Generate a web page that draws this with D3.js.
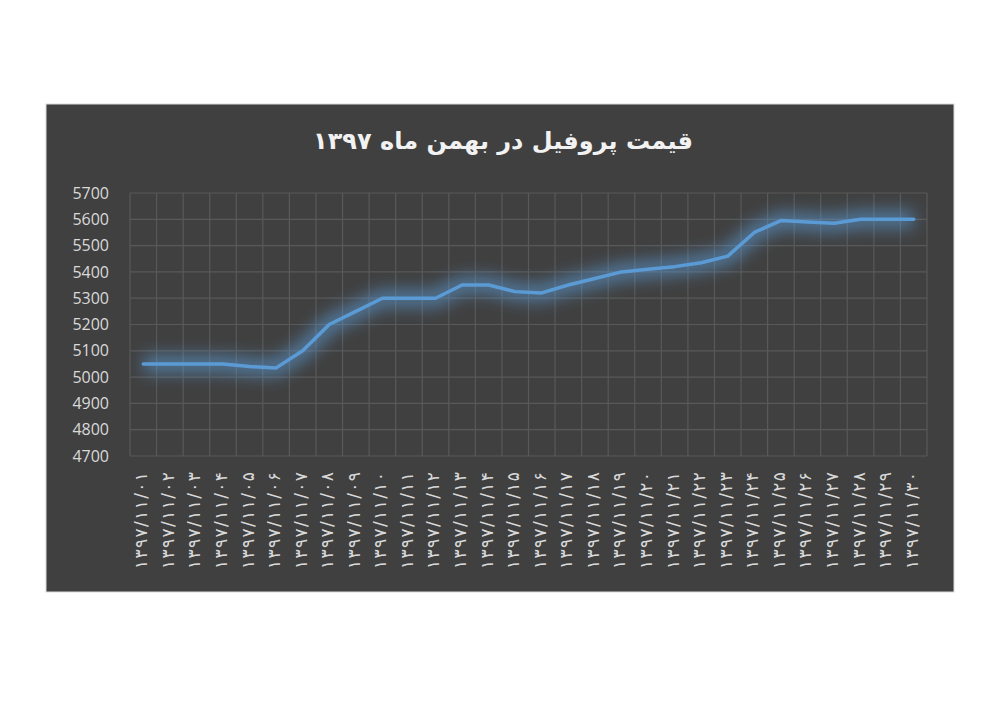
<!DOCTYPE html>
<html><head><meta charset="utf-8">
<script src="https://cdn.jsdelivr.net/npm/d3@7/dist/d3.min.js"></script>
<style>
html,body{margin:0;padding:0;background:#fff;}
svg{display:block;}
</style></head>
<body>
<svg id="chart" width="1000" height="701"></svg>
<script>
const title = "قیمت پروفیل در بهمن ماه ۱۳۹۷";
const categories = ["۱۳۹۷/۱۱/۰۱","۱۳۹۷/۱۱/۰۲","۱۳۹۷/۱۱/۰۳","۱۳۹۷/۱۱/۰۴","۱۳۹۷/۱۱/۰۵","۱۳۹۷/۱۱/۰۶","۱۳۹۷/۱۱/۰۷","۱۳۹۷/۱۱/۰۸","۱۳۹۷/۱۱/۰۹","۱۳۹۷/۱۱/۱۰",
 "۱۳۹۷/۱۱/۱۱","۱۳۹۷/۱۱/۱۲","۱۳۹۷/۱۱/۱۳","۱۳۹۷/۱۱/۱۴","۱۳۹۷/۱۱/۱۵","۱۳۹۷/۱۱/۱۶","۱۳۹۷/۱۱/۱۷","۱۳۹۷/۱۱/۱۸","۱۳۹۷/۱۱/۱۹","۱۳۹۷/۱۱/۲۰",
 "۱۳۹۷/۱۱/۲۱","۱۳۹۷/۱۱/۲۲","۱۳۹۷/۱۱/۲۳","۱۳۹۷/۱۱/۲۴","۱۳۹۷/۱۱/۲۵","۱۳۹۷/۱۱/۲۶","۱۳۹۷/۱۱/۲۷","۱۳۹۷/۱۱/۲۸","۱۳۹۷/۱۱/۲۹","۱۳۹۷/۱۱/۳۰"];
const prices = [5050,5050,5050,5050,5040,5035,5100,5200,5250,5300,
 5300,5300,5350,5350,5325,5320,5350,5375,5400,5410,
 5420,5435,5460,5550,5595,5590,5585,5600,5600,5600];
const yTicks = [4700,4800,4900,5000,5100,5200,5300,5400,5500,5600,5700];

const svg = d3.select("#chart");
// chart frame
svg.append("rect").attr("x",46).attr("y",104).attr("width",908).attr("height",488)
  .attr("fill","#404040").attr("stroke","#d9d9d9").attr("stroke-width",1);

const defs = svg.append("defs");
const f = defs.append("filter").attr("id","glow").attr("x","-20%").attr("y","-50%").attr("width","140%").attr("height","200%");
f.append("feGaussianBlur").attr("in","SourceGraphic").attr("stdDeviation",8);

const x = d3.scaleBand().domain(categories).range([130,927]).padding(0);
const y = d3.scaleLinear().domain([4700,5700]).range([456,193]);

// horizontal gridlines
svg.append("g").selectAll("line").data(yTicks).join("line")
  .attr("x1",130).attr("x2",927).attr("y1",d=>y(d)).attr("y2",d=>y(d))
  .attr("stroke","#595959").attr("stroke-width",1.2);
// vertical gridlines at category boundaries
const bounds = categories.map(c=>x(c)).concat([x.range()[1]]);
svg.append("g").selectAll("line").data(bounds).join("line")
  .attr("x1",d=>d).attr("x2",d=>d).attr("y1",y(5700)).attr("y2",y(4700))
  .attr("stroke","#595959").attr("stroke-width",1.2);

// y axis labels
svg.append("g").selectAll("text").data(yTicks).join("text")
  .attr("x",109).attr("y",d=>y(d)).attr("dy","0.35em").attr("text-anchor","end")
  .attr("font-family","'Open Sans', 'DejaVu Sans', sans-serif").attr("font-size",16)
  .attr("fill","#d9d9d9").text(d=>d);

// x axis labels
svg.append("g").selectAll("text").data(categories).join("text")
  .attr("transform",d=>`translate(${x(d)+x.bandwidth()/2 - 2},472) rotate(-90)`)
  .attr("dy","0.35em").attr("text-anchor","end").attr("direction","ltr")
  .attr("textLength",97).attr("lengthAdjust","spacing")
  .attr("font-family","'DejaVu Sans', sans-serif").attr("font-size",17)
  .attr("fill","#d9d9d9").text(d=>d);

// line
const line = d3.line().x((d,i)=>x(categories[i])+x.bandwidth()/2).y(d=>y(d));
svg.append("path").datum(prices).attr("d",line).attr("fill","none")
  .attr("stroke","#5b9bd5").attr("stroke-width",18).attr("stroke-opacity",0.6)
  .attr("filter","url(#glow)");
svg.append("path").datum(prices).attr("d",line).attr("fill","none")
  .attr("stroke","#5b9bd5").attr("stroke-width",3.5).attr("stroke-linejoin","round").attr("stroke-linecap","round");

// title
svg.append("text").attr("x",503).attr("y",149).attr("text-anchor","middle")
  .attr("font-family","'DejaVu Sans', sans-serif").attr("font-weight","bold").attr("font-size",24)
  .attr("fill","#f2f2f2").attr("direction","rtl").text(title);
</script>
</body></html>
